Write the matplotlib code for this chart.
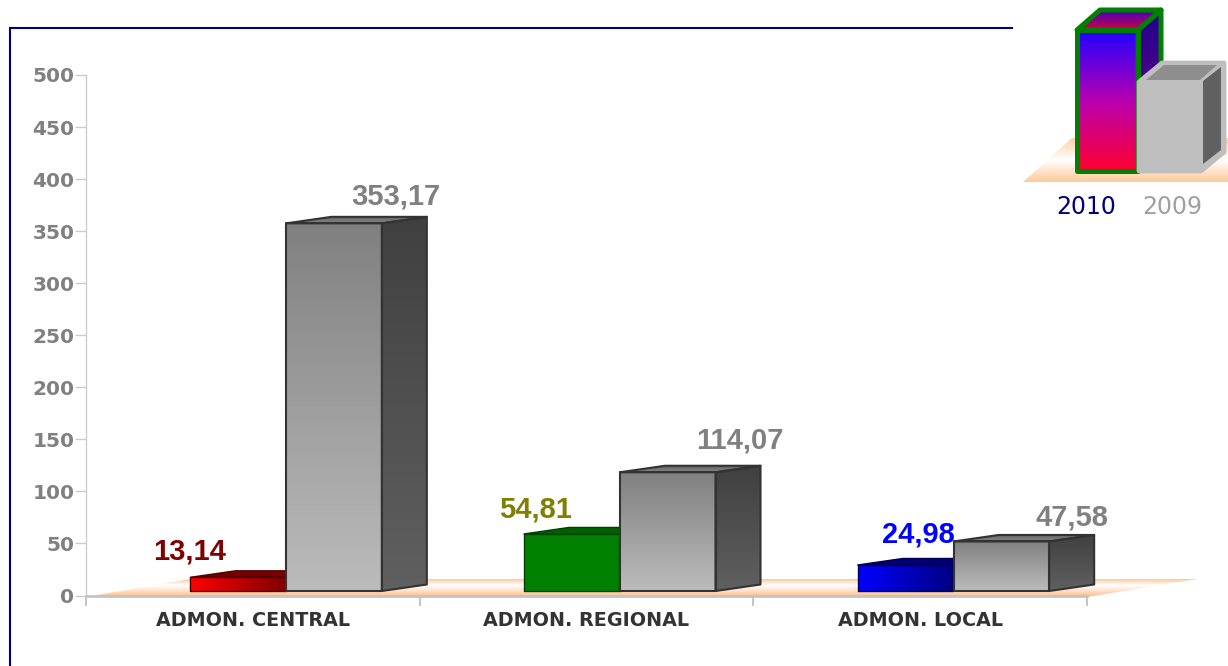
import matplotlib
matplotlib.use("Agg")
import matplotlib.pyplot as plt
import numpy as np
from matplotlib.colors import LinearSegmentedColormap
from matplotlib.patches import Polygon

categories = ["ADMON. CENTRAL", "ADMON. REGIONAL", "ADMON. LOCAL"]
values_2010 = [13.14, 54.81, 24.98]
values_2009 = [353.17, 114.07, 47.58]
labels_2010 = ["13,14", "54,81", "24,98"]
labels_2009 = ["353,17", "114,07", "47,58"]
yticks = [0, 50, 100, 150, 200, 250, 300, 350, 400, 450, 500]
legend_names = ["2010", "2009"]

W, H = 1228, 666
GRAY_FRONT = ["#808080", "#bcbcbc"]
GRAY_SIDE = ["#404040", "#606060"]
GRAY_TOP = ["#5a5a5a", "#8a8a8a"]

# 2010 bar colours per category: front left/right, top back/front, edge, label
fronts_2010 = [["#ff0000", "#800000"], ["#008000", "#008000"], ["#0000ff", "#000080"]]
tops_2010 = [["#900000", "#600000"], ["#006000", "#006000"], ["#000090", "#000060"]]
edges_2010 = ["#500000", "#004000", "#000050"]
label_cols_2010 = ["#800000", "#808000", "#0000ff"]

# label offset from the top-left corner of the front face, pixels
offs_2010 = [(-1, 26), (11, 24), (61, 30)]
offs_2009 = [(109, 27), (120, 32), (118, 24)]


def fill(ax, pts, stops, vertical=True, z=2):
    pts = np.array(pts, dtype=float)
    cmap = LinearSegmentedColormap.from_list("g", stops)
    grad = np.linspace(0, 1, 256)
    grad = grad.reshape(-1, 1) if vertical else grad.reshape(1, -1)
    x0, x1 = pts[:, 0].min(), pts[:, 0].max()
    y0, y1 = pts[:, 1].min(), pts[:, 1].max()
    # first stop sits at the top of the shape (or at the left)
    if ax.yaxis_inverted():
        ext = (x0, x1, y1, y0)
    else:
        ext = (x0, x1, y0, y1)
    im = ax.imshow(grad, cmap=cmap, extent=ext, origin="upper", aspect="auto",
                   zorder=z, interpolation="bilinear")
    clip = Polygon(pts, closed=True, transform=ax.transData, fc="none", ec="none", clip_on=False)
    ax.add_patch(clip)
    im.set_clip_box(ax.figure.bbox)
    im.set_clip_path(clip)


def outline(ax, pts, col, lw, z):
    ax.add_patch(Polygon(pts, closed=True, fc="none", ec=col, lw=lw, joinstyle="round", zorder=z, clip_on=False))


def box(ax, left, val, w, dx, dy, base, front, side, top, edge, lw, z, horiz=False):
    t = base + val
    r = left + w
    fill(ax, [(r, base), (r + dx, base + dy), (r + dx, t + dy), (r, t)], side, z=z)
    fill(ax, [(left, t), (r, t), (r + dx, t + dy), (left + dx, t + dy)], top, z=z)
    fill(ax, [(left, base), (r, base), (r, t), (left, t)], front, vertical=not horiz, z=z)
    outline(ax, [(r, base), (r + dx, base + dy), (r + dx, t + dy), (r, t)], edge, lw, z + 0.1)
    outline(ax, [(left, t), (r, t), (r + dx, t + dy), (left + dx, t + dy)], edge, lw, z + 0.1)
    outline(ax, [(left, base), (r, base), (r, t), (left, t)], edge, lw, z + 0.1)


fig = plt.figure(figsize=(W / 100, H / 100), dpi=100, facecolor="white")

# overlay in picture pixels: frame, floor and the legend icon
bg = fig.add_axes([0, 0, 1, 1], zorder=1)
bg.set_xlim(0, W)
bg.set_ylim(H, 0)
bg.axis("off")

bg.plot([10, 10, 1012], [H, 28, 28], color="#000080", lw=1.5, solid_joinstyle="miter")

floor_stops = ["#ffc898", "#ffffff", "#ffe0c8", "#ffb880"]
fill(bg, [(86, 597), (190, 579), (1198, 579), (1087, 597)], floor_stops, z=1)

# legend icon
fill(bg, [(1023, 182), (1072, 138), (1228, 138), (1228, 182)], ["#ffcfa6", "#ffffff", "#ffc99a"], z=1)
fill(bg, [(1138, 30), (1161, 10), (1161, 152), (1138, 172)], ["#200090", "#800080"], z=2)
fill(bg, [(1077, 30), (1100, 10), (1161, 10), (1138, 30)], ["#4000c0", "#d00040"], z=2)
fill(bg, [(1077, 30), (1138, 30), (1138, 171), (1077, 171)], ["#2000ff", "#b800b0", "#ff0030"], z=2)
for pts in ([(1077, 30), (1138, 30), (1138, 171), (1077, 171)],
            [(1077, 30), (1100, 10), (1161, 10), (1138, 30)],
            [(1138, 30), (1161, 10), (1161, 100), (1138, 100)]):
    outline(bg, pts, "#008000", 3.6, 3)
bg.add_patch(Polygon([(1139, 82), (1162, 63), (1224, 63), (1224, 152), (1201, 171), (1139, 171)],
                     closed=True, fc="#bebebe", ec="#bebebe", lw=3.4, joinstyle="round", zorder=4))
bg.add_patch(Polygon([(1146, 80), (1164, 65), (1217, 65), (1200, 80)], closed=True, fc="#8e8e8e", ec="none", zorder=5))
bg.add_patch(Polygon([(1203, 81), (1221, 67), (1221, 150), (1203, 164)], closed=True, fc="#606060", ec="none", zorder=5))
bg.text(1086, 207, legend_names[0], color="#000080", fontsize=17, ha="center", va="center", family="DejaVu Sans")
bg.text(1172, 207, legend_names[1], color="#a0a0a0", fontsize=17, ha="center", va="center", family="DejaVu Sans")
bg.set_xlim(0, W)
bg.set_ylim(H, 0)

# main chart, same scale as the picture: 1.04 px per unit on y
ax = fig.add_axes([86 / W, (H - 595.5) / H, (1087 - 86) / W, (595.5 - 75) / H], zorder=2)
ax.patch.set_alpha(0)
xs = np.arange(len(categories))
ax.set_xlim(-0.5, 2.5)
ax.set_ylim(0, 500)

px_x = 3 / (1087 - 86)
px_y = 500 / (595.5 - 75)
bar_w = 95.5 * px_x
depth_x = 45 * px_x
depth_y = 6.5 * px_y
base = 4.5 * px_y

for i, x in enumerate(xs):
    left = x - 62.5 * px_x
    box(ax, left, values_2010[i], bar_w, depth_x, depth_y, base, fronts_2010[i],
        [edges_2010[i], edges_2010[i]], tops_2010[i], edges_2010[i], 1.0, 3, horiz=True)
    ax.annotate(labels_2010[i], (left, base + values_2010[i]), xytext=offs_2010[i],
                textcoords="offset pixels", ha="center", va="center", fontsize=21,
                fontweight="bold", family="Liberation Sans", color=label_cols_2010[i], zorder=8)
    left2 = x + 33.5 * px_x
    box(ax, left2, values_2009[i], bar_w, depth_x, depth_y, base, GRAY_FRONT,
        GRAY_SIDE, GRAY_TOP, "#333333", 1.5, 5)
    ax.annotate(labels_2009[i], (left2, base + values_2009[i]), xytext=offs_2009[i],
                textcoords="offset pixels", ha="center", va="center", fontsize=21,
                fontweight="bold", family="Liberation Sans", color="#808080", zorder=8)

ax.set_xlim(-0.5, 2.5)
ax.set_ylim(0, 500)
ax.spines[["top", "right"]].set_visible(False)
ax.spines["left"].set_color("#cccccc")
ax.spines["left"].set_linewidth(1)
ax.spines["bottom"].set_color("#c4c4c4")
ax.spines["bottom"].set_linewidth(2)
ax.set_yticks(yticks)
ax.set_yticklabels([str(t) for t in yticks], fontsize=14.5, fontweight="bold", color="#808080")
ax.tick_params(axis="y", length=8, width=1, color="#cccccc", pad=0.5)
ax.set_xticks([-0.5, 0.5, 1.5, 2.5])
ax.set_xticklabels([])
ax.tick_params(axis="x", length=7, width=1.4, color="#c4c4c4")
for x, name in zip(xs, categories):
    ax.annotate(name, (x, 0), xytext=(0, -25), textcoords="offset pixels", ha="center", va="center",
                fontsize=13.75, fontweight="bold", color="#333333", annotation_clip=False)

fig.savefig("out.png", dpi=100)
